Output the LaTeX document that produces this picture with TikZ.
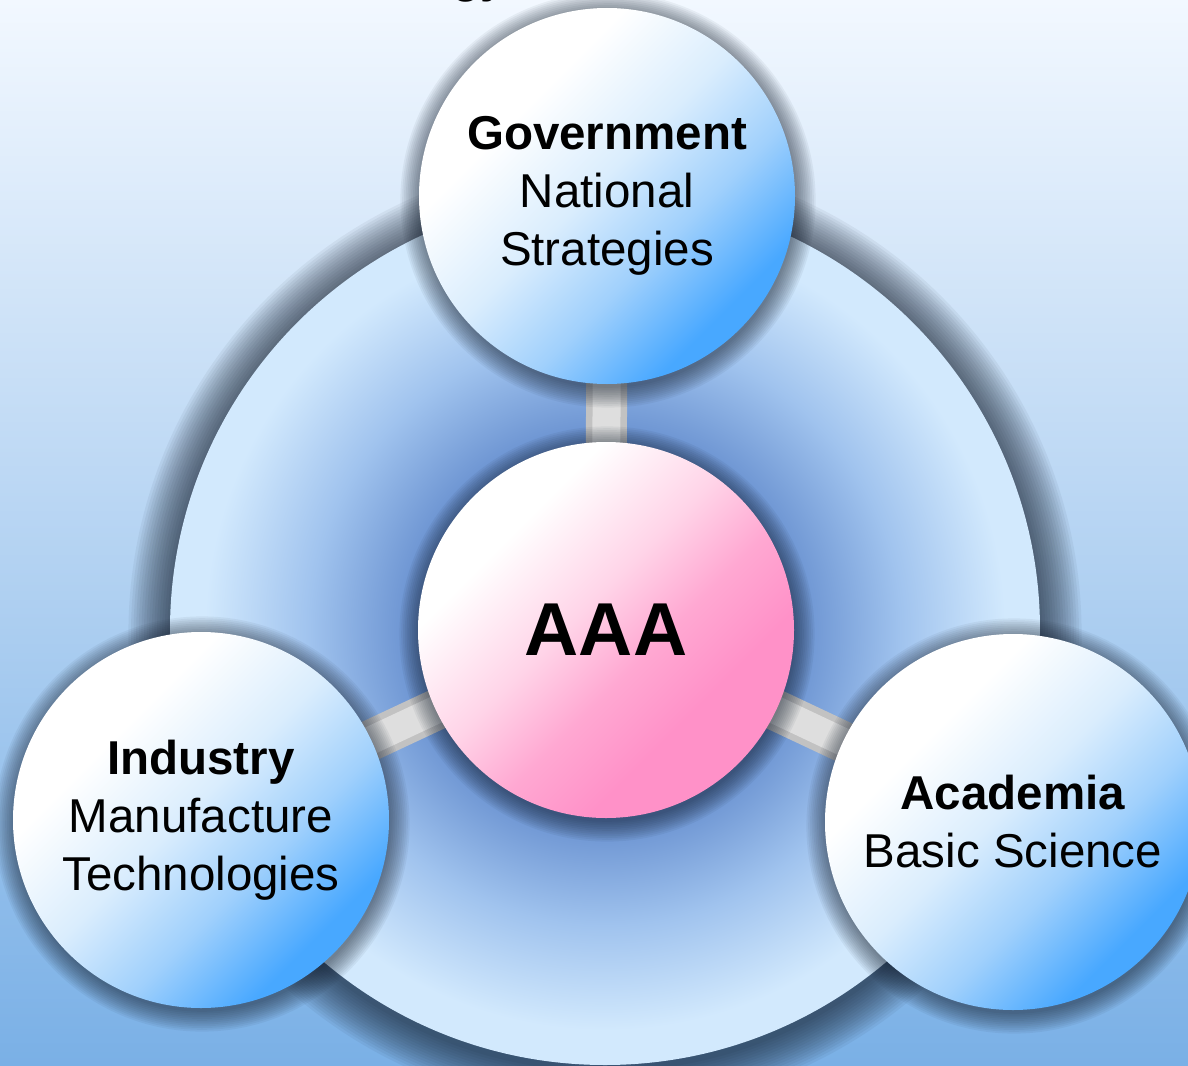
\documentclass[tikz,border=0pt]{standalone}
\usepackage{fontspec}
\setmainfont{Liberation Sans}
\usepackage{tikz}
\usetikzlibrary{positioning}
\usetikzlibrary{calc}

\definecolor{bgtop}{RGB}{242,248,255}
\definecolor{bgmid}{RGB}{212,230,248}
\definecolor{bgbot}{RGB}{122,176,230}
\definecolor{ringin}{RGB}{105,145,208}
\definecolor{ringmid}{RGB}{160,195,238}
\definecolor{ringout}{RGB}{210,233,253}
\definecolor{bluepale}{RGB}{218,237,253}
\definecolor{bluemid}{RGB}{160,208,252}
\definecolor{bluedark}{RGB}{72,168,255}
\definecolor{pinkpale}{RGB}{255,212,232}
\definecolor{pinkmid}{RGB}{255,168,210}
\definecolor{pinkdark}{RGB}{255,145,200}
\definecolor{shadowcol}{RGB}{20,30,45}

\pgfdeclareradialshading{ringshade}{\pgfpoint{0bp}{0bp}}{color(0bp)=(ringin); color(11bp)=(ringin); color(17bp)=(ringmid); color(23bp)=(ringout); color(25bp)=(ringout); color(50bp)=(ringout)}
\pgfdeclareverticalshading{blueball}{100bp}{color(0bp)=(bluedark); color(28bp)=(bluedark); color(40bp)=(bluemid); color(52bp)=(bluepale); color(66bp)=(white); color(100bp)=(white)}
\pgfdeclareverticalshading{pinkball}{100bp}{color(0bp)=(pinkdark); color(34bp)=(pinkdark); color(44bp)=(pinkmid); color(54bp)=(pinkpale); color(68bp)=(white); color(100bp)=(white)}

\pgfdeclarelayer{back}
\pgfdeclarelayer{mid}
\pgfsetlayers{back,mid,main}

\tikzstyle{vertex}=[circle,minimum size=376pt,inner sep=0pt,align=center,
  font=\fontsize{47.5}{58}\selectfont]
\tikzstyle{bluevertex}=[vertex,shading=blueball,shading angle=45]
\tikzstyle{pinkvertex}=[vertex,shading=pinkball,shading angle=45,
  font=\bfseries\fontsize{75}{80}\selectfont]
\tikzstyle{bar}=[line width=41pt,draw=black!24]
\tikzstyle{barglow}=[line width=28pt,draw=black!13]
\tikzstyle{softshadow}=[fill=shadowcol,opacity=0.055]

\begin{document}
\begin{tikzpicture}[x=1pt,y=-1pt]

  \def\dx{0};
  \def\dy{0};
  \def\u{1};

  \useasboundingbox (0,0) rectangle (1188,1065);

  \begin{pgfonlayer}{back}
    \shade[top color=bgtop,middle color=bgmid,bottom color=bgbot] (0,0) rectangle (1188,1065);
    \foreach \k in {1,...,16}
      \fill[softshadow] (605,634) circle ({435+2.6*\k});
    \node[circle,minimum size=870pt,inner sep=0pt,shading=ringshade] (ring) at (605,630) {};
  \end{pgfonlayer}

  % title cut by the page edge
  \node[anchor=base west,inner sep=0pt,font=\bfseries\fontsize{46}{50}\selectfont] (title) at (452,-7) {gy};

  \node[pinkvertex] (aaa) at (606*\u+\dx, 630+\dy) {AAA};

  \foreach \x/\y/\name/\label in {607/196/gov/{\textbf{Government}\\National\\Strategies},
                                  201/820/ind/{\textbf{Industry}\\Manufacture\\Technologies},
                                  1013/822/aca/{\textbf{Academia}\\Basic Science}}
    \node[bluevertex] (\name) at (\x*\u+\dx, \y+\dy) {\label};

  \begin{pgfonlayer}{mid}
    \foreach \name in {gov,ind,aca}{
      \draw[bar] (aaa.center) -- (\name.center);
      \draw[barglow] (aaa.center) -- (\name.center);
    }
    \foreach \name in {aaa,gov,ind,aca}
      \foreach \k in {1,...,12}
        \fill[softshadow] ($(\name.center)+(1,4)$) circle ({186+1.8*\k});
  \end{pgfonlayer}

\end{tikzpicture}
\end{document}
